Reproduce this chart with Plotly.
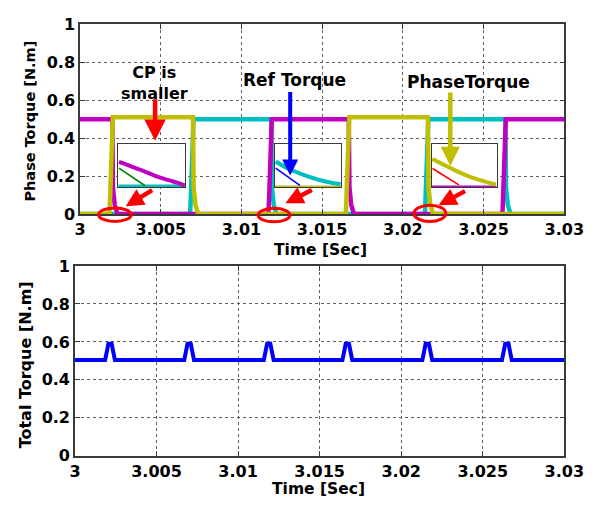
import plotly.graph_objects as go

W, H = 613, 509

# ---------------- data ----------------
time_ticks = [3.0, 3.005, 3.01, 3.015, 3.02, 3.025, 3.03]
time_labels = ["3", "3.005", "3.01", "3.015", "3.02", "3.025", "3.03"]
torque_ticks = [0.0, 0.2, 0.4, 0.6, 0.8, 1.0]
torque_labels = ["0", "0.2", "0.4", "0.6", "0.8", "1"]

# phase torques [N.m] versus time [s]
phase_a_time = [3.00000, 3.00200, 3.00204, 3.00215, 3.00232,
                3.01167, 3.01173, 3.01182, 3.01188,
                3.01665, 3.01669, 3.01680, 3.01697,
                3.02617, 3.02623, 3.02632, 3.02638, 3.03000]
phase_a_torque = [0.50, 0.50, 0.14, 0.05, 0.00,
                  0.00, 0.12, 0.28, 0.50,
                  0.50, 0.14, 0.05, 0.00,
                  0.00, 0.12, 0.28, 0.50, 0.50]

phase_b_time = [3.00000, 3.00182, 3.00188, 3.00197, 3.00203,
                3.00700, 3.00704, 3.00715, 3.00732,
                3.01647, 3.01653, 3.01662, 3.01668,
                3.02155, 3.02159, 3.02170, 3.02187, 3.03000]
phase_b_torque = [0.00, 0.00, 0.12, 0.28, 0.51,
                  0.51, 0.14, 0.05, 0.00,
                  0.00, 0.12, 0.28, 0.51,
                  0.51, 0.14, 0.05, 0.00, 0.00]

phase_c_time = [3.00000, 3.00682, 3.00688, 3.00697, 3.00703,
                3.01185, 3.01189, 3.01200, 3.01217,
                3.02137, 3.02143, 3.02152, 3.02158,
                3.02635, 3.02639, 3.02650, 3.02667, 3.03000]
phase_c_torque = [0.00, 0.00, 0.12, 0.28, 0.50,
                  0.50, 0.14, 0.05, 0.00,
                  0.00, 0.12, 0.28, 0.50,
                  0.50, 0.14, 0.05, 0.00, 0.00]

# total torque [N.m]
total_time = [3.00000,
              3.00185, 3.00205, 3.00225, 3.00245,
              3.00670, 3.00690, 3.00710, 3.00730,
              3.01158, 3.01178, 3.01198, 3.01218,
              3.01640, 3.01660, 3.01680, 3.01700,
              3.02130, 3.02150, 3.02170, 3.02190,
              3.02618, 3.02638, 3.02658, 3.02678,
              3.03000]
total_torque = [0.505,
                0.505, 0.59, 0.59, 0.505,
                0.505, 0.59, 0.59, 0.505,
                0.505, 0.59, 0.59, 0.505,
                0.505, 0.59, 0.59, 0.505,
                0.505, 0.59, 0.59, 0.505,
                0.505, 0.59, 0.59, 0.505,
                0.505]

# zoomed commutation views (normalised window units)
zoom1_phase_x = [0.01, 0.19, 0.38, 0.57, 0.75, 0.90, 0.99]
zoom1_phase_y = [0.59, 0.49, 0.38, 0.26, 0.17, 0.10, 0.05]
zoom1_ref_x = [0.01, 0.40]
zoom1_ref_y = [0.45, 0.04]
zoom1_idle_x = [0.0, 1.0]
zoom1_idle_y = [0.04, 0.04]

zoom2_phase_x = [0.01, 0.18, 0.38, 0.57, 0.76, 0.99]
zoom2_phase_y = [0.60, 0.45, 0.32, 0.22, 0.14, 0.075]
zoom2_ref_x = [0.01, 0.375]
zoom2_ref_y = [0.45, 0.05]
zoom2_idle_x = [0.0, 1.0]
zoom2_idle_y = [0.02, 0.02]

zoom3_phase_x = [0.01, 0.17, 0.37, 0.57, 0.77, 0.99]
zoom3_phase_y = [0.66, 0.54, 0.39, 0.26, 0.16, 0.07]
zoom3_ref_x = [0.015, 0.42]
zoom3_ref_y = [0.44, 0.06]
zoom3_idle_x = [0.0, 1.0]
zoom3_idle_y = [0.02, 0.02]

# ---------------- styling ----------------
MAGENTA = "#bf00bf"
OLIVE = "#bfbf00"
CYAN = "#00bfbf"
BLUE = "#0000ff"
RED = "#ff0000"
GREEN = "#008000"
FONT = "DejaVu Sans"

# subplot frames in page pixels
TOP_L, TOP_R, TOP_T, TOP_B = 77.3, 583.0, 16.0, 213.0
BOT_L, BOT_R, BOT_T, BOT_B = 72.0, 583.0, 267.0, 464.0
T0, T1 = 3.0, 3.03


def xdom(l, r):
    return [l / W, r / W]


def ydom(t, b):
    return [1 - b / H, 1 - t / H]


def top_px(t, v):
    """time/torque on the upper axes -> page pixels"""
    px = TOP_L + (t - T0) / (T1 - T0) * (TOP_R - TOP_L)
    py = TOP_B - v * (TOP_B - TOP_T)
    return px, py


def paper(px, py):
    return px / W, 1 - py / H


fig = go.Figure()

# upper plot: three phase torques
for tt, vv, col in [(phase_c_time, phase_c_torque, CYAN),
                    (phase_a_time, phase_a_torque, MAGENTA),
                    (phase_b_time, phase_b_torque, OLIVE)]:
    fig.add_trace(go.Scatter(x=tt, y=vv, mode="lines", xaxis="x", yaxis="y",
                             line=dict(color=col, width=4.5), showlegend=False,
                             hoverinfo="skip"))

# lower plot: total torque
fig.add_trace(go.Scatter(x=total_time, y=total_torque, mode="lines",
                         xaxis="x2", yaxis="y2",
                         line=dict(color=BLUE, width=4), showlegend=False,
                         hoverinfo="skip"))

# zoom windows
zooms = [
    (3, [3.00237, 3.00652], zoom1_phase_x, zoom1_phase_y, MAGENTA,
     zoom1_ref_x, zoom1_ref_y, GREEN, zoom1_idle_x, zoom1_idle_y, CYAN),
    (4, [3.01208, 3.01618], zoom2_phase_x, zoom2_phase_y, CYAN,
     zoom2_ref_x, zoom2_ref_y, BLUE, zoom2_idle_x, zoom2_idle_y, OLIVE),
    (5, [3.02178, 3.02581], zoom3_phase_x, zoom3_phase_y, OLIVE,
     zoom3_ref_x, zoom3_ref_y, RED, zoom3_idle_x, zoom3_idle_y, MAGENTA),
]
zoom_vrange = [0.14, 0.368]

axis_common = dict(showline=True, linecolor="#3a3a3a", linewidth=1.5,
                   mirror="ticks", ticks="inside", ticklen=5,
                   tickcolor="#3a3a3a", showgrid=True, griddash="dot",
                   gridcolor="#606060", gridwidth=1, zeroline=False,
                   tickfont=dict(family=FONT, size=16, color="black",
                                 weight="bold"),
                   fixedrange=True)

layout_axes = {}
shapes = []
for n, trange, px_, py_, pcol, rx, ry, rcol, ix, iy, icol in zooms:
    xa, ya = f"x{n}", f"y{n}"
    fig.add_trace(go.Scatter(x=ix, y=iy, mode="lines", xaxis=xa, yaxis=ya,
                             line=dict(color=icol, width=2.5),
                             showlegend=False, hoverinfo="skip"))
    fig.add_trace(go.Scatter(x=px_, y=py_, mode="lines", xaxis=xa, yaxis=ya,
                             line=dict(color=pcol, width=4, shape="spline"),
                             showlegend=False, hoverinfo="skip"))
    fig.add_trace(go.Scatter(x=rx, y=ry, mode="lines", xaxis=xa, yaxis=ya,
                             line=dict(color=rcol, width=1.6),
                             showlegend=False, hoverinfo="skip"))
    l, b = top_px(trange[0], zoom_vrange[0])
    r, t = top_px(trange[1], zoom_vrange[1])
    frame = dict(showline=True, linecolor="#3a3a3a", linewidth=1.3,
                 mirror=True, ticks="", showticklabels=False,
                 showgrid=False, zeroline=False, range=[0, 1],
                 fixedrange=True)
    layout_axes[f"xaxis{n}"] = dict(frame, domain=xdom(l, r), anchor=ya)
    layout_axes[f"yaxis{n}"] = dict(frame, domain=ydom(t, b), anchor=xa)
    # white backing so the main grid does not show through the window
    shapes.append(dict(type="rect", xref="x", yref="y",
                       x0=trange[0], x1=trange[1],
                       y0=zoom_vrange[0], y1=zoom_vrange[1],
                       fillcolor="white", line=dict(width=0),
                       layer="between"))

# red ellipses marking the commutation instants
for (ta, tb, va, vb) in [(3.00115, 3.00317, -0.039, 0.032),
                         (3.01103, 3.01301, -0.041, 0.030),
                         (3.02069, 3.02266, -0.039, 0.046)]:
    x0, y0 = paper(*top_px(ta, va))
    x1, y1 = paper(*top_px(tb, vb))
    shapes.append(dict(type="circle", xref="paper", yref="paper",
                       x0=x0, x1=x1, y0=y0, y1=y1,
                       line=dict(color=RED, width=3)))

annotations = []


def arrow(t, v, ax, ay, color, width, size, head=2):
    x, y = paper(*top_px(t, v))
    annotations.append(dict(x=x, y=y, xref="paper", yref="paper",
                            ax=ax, ay=ay, text="", showarrow=True,
                            arrowhead=head, arrowsize=size,
                            arrowwidth=width, arrowcolor=color, standoff=0))


def label(t, v, text, size=17):
    x, y = paper(*top_px(t, v))
    annotations.append(dict(x=x, y=y, xref="paper", yref="paper",
                            text=text, showarrow=False, xanchor="center",
                            yanchor="middle",
                            font=dict(family=FONT, size=size, color="black",
                                      weight="bold")))


label(3.00461, 0.693, "CP is<br>smaller", size=16)
label(3.01327, 0.706, "Ref Torque")
label(3.02407, 0.695, "PhaseTorque")

arrow(3.00465, 0.386, 0, -43, RED, 4.5, 0.95)
arrow(3.01302, 0.203, 0, -85, BLUE, 4, 0.8)
arrow(3.02294, 0.254, 0, -75, OLIVE, 4.5, 0.85)
arrow(3.00283, 0.041, 28, -17, RED, 4.5, 0.8)
arrow(3.01272, 0.057, 28, -14, RED, 4.5, 0.8)
arrow(3.02221, 0.046, 28, -15, RED, 4.5, 0.8)


def page_text(px, py, text, size, angle=0):
    x, y = paper(px, py)
    annotations.append(dict(x=x, y=y, xref="paper", yref="paper",
                            text=text, showarrow=False, textangle=angle,
                            xanchor="center", yanchor="middle",
                            font=dict(family=FONT, size=size, color="black",
                                      weight="bold")))


# axis titles
page_text(328, 250, "Time [Sec]", 15.5)
page_text(326, 499, "Time [Sec]", 15.5)
page_text(25, 116, "Phase Torque [N.m]", 14.5, -90)
page_text(20, 370, "Total Torque [N.m]", 16, -90)

fig.update_layout(
    width=W, height=H,
    margin=dict(l=0, r=0, t=0, b=0),
    paper_bgcolor="white", plot_bgcolor="white",
    showlegend=False,
    xaxis=dict(axis_common, domain=xdom(TOP_L, TOP_R), range=[T0, T1],
               tickvals=time_ticks, ticktext=time_labels, anchor="y",
               ticklabelstandoff=0),
    yaxis=dict(axis_common, domain=ydom(TOP_T, TOP_B), range=[0, 1],
               tickvals=torque_ticks, ticktext=torque_labels, anchor="x",
               ticklabelstandoff=0),
    xaxis2=dict(axis_common, domain=xdom(BOT_L, BOT_R), range=[T0, T1],
                tickvals=time_ticks, ticktext=time_labels, anchor="y2",
                ticklabelstandoff=0),
    yaxis2=dict(axis_common, domain=ydom(BOT_T, BOT_B), range=[0, 1],
                tickvals=torque_ticks, ticktext=torque_labels, anchor="x2",
                ticklabelstandoff=0),
    shapes=shapes,
    annotations=annotations,
    **layout_axes,
)

fig.write_html("out.html", config={"displayModeBar": False})
